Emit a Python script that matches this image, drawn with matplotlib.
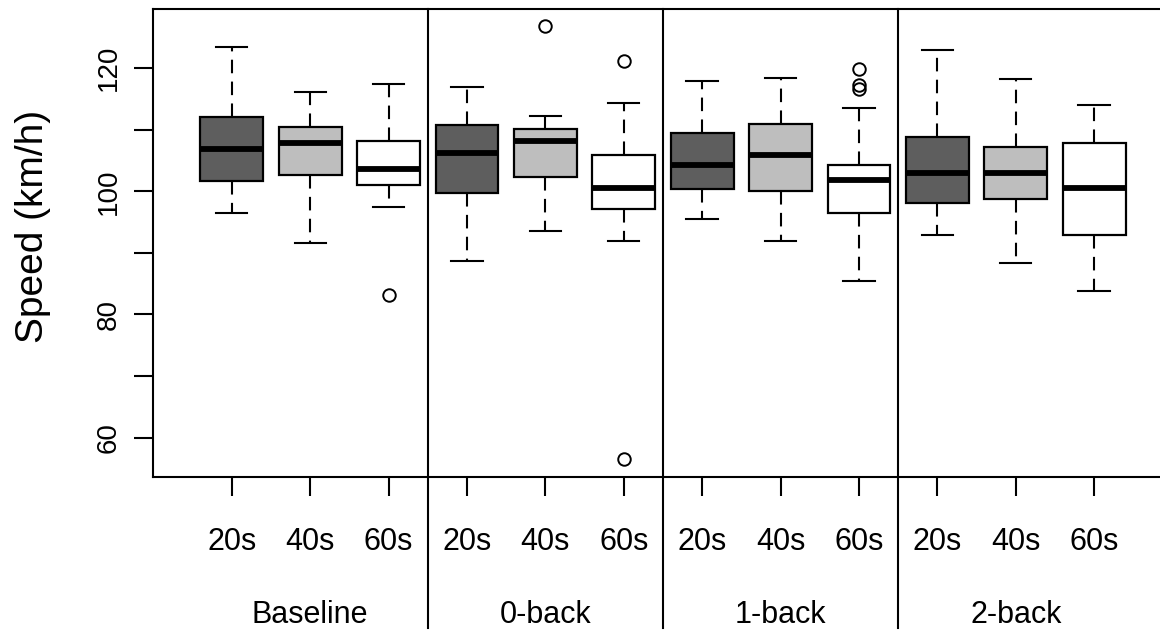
import matplotlib.pyplot as plt
from matplotlib.lines import Line2D

plt.rcParams['font.family'] = ['Liberation Sans', 'DejaVu Sans']

# --- dados (km/h) ---
condicoes = ['Baseline', '0-back', '1-back', '2-back']
janelas = ['20s', '40s', '60s']

whis_lo = [96.4, 91.6, 97.4, 88.6, 93.5, 91.9, 95.5, 91.9, 85.4, 92.9, 88.4, 83.8]
q1 = [101.6, 102.6, 101.0, 99.7, 102.3, 97.1, 100.3, 100.0, 96.5, 98.1, 98.7, 92.9]
mediana = [106.8, 107.8, 103.6, 106.2, 108.1, 100.6, 104.3, 105.9, 101.9, 103.0, 103.0, 100.6]
q3 = [112.0, 110.4, 108.1, 110.7, 110.1, 105.9, 109.4, 111.0, 104.2, 108.8, 107.2, 107.8]
whis_hi = [123.4, 116.2, 117.5, 116.9, 112.3, 114.3, 117.9, 118.4, 113.6, 123.0, 118.2, 114.0]
outliers = [[], [], [83.2], [], [126.9], [121.1, 56.5], [], [], [119.8, 117.3, 116.6], [], [], []]

CORES = ['#5e5e5e', '#bebebe', '#ffffff']

stats = []
for i in range(len(mediana)):
    stats.append({'whislo': whis_lo[i], 'q1': q1[i], 'med': mediana[i],
                  'q3': q3[i], 'whishi': whis_hi[i], 'fliers': outliers[i]})

fig = plt.figure(figsize=(11.6, 6.32), dpi=100)
ax = fig.add_axes([153 / 1160, 155 / 632, 1 - 153 / 1160, 468 / 632])

posicoes = list(range(1, len(mediana) + 1))
bp = ax.bxp(stats, positions=posicoes, widths=0.8, patch_artist=True,
            capwidths=0.4,
            boxprops=dict(linewidth=1.6, edgecolor='black'),
            medianprops=dict(linewidth=4.2, color='black', solid_capstyle='butt'),
            whiskerprops=dict(linewidth=1.5, linestyle=(0, (6.5, 4)), color='black'),
            capprops=dict(linewidth=1.5, color='black'),
            flierprops=dict(marker='o', markersize=9, markerfacecolor='none',
                            markeredgecolor='black', markeredgewidth=1.4))
for i, caixa in enumerate(bp['boxes']):
    caixa.set_facecolor(CORES[i % 3])

ax.set_xlim(-0.005, 12.84)
ax.set_ylim(53.6, 129.6)

ax.set_yticks([60, 70, 80, 90, 100, 110, 120])
ax.set_yticklabels(['60', '', '80', '', '100', '', '120'], rotation=90, va='center')
ax.set_xticks(posicoes)
ax.set_xticklabels(janelas * 4)
ax.tick_params(axis='both', length=13.7, width=1.5)
ax.tick_params(axis='x', pad=22, labelsize=22)
ax.tick_params(axis='y', pad=9, labelsize=20)
ax.set_ylabel('Speed (km/h)', fontsize=28)
ax.yaxis.set_label_coords(-0.101, 0.536)

for lado in ['left', 'top', 'bottom']:
    ax.spines[lado].set_linewidth(1.5)
ax.spines['right'].set_visible(False)

# linhas separando as condições (descem até a área dos rótulos)
for k in range(1, len(condicoes)):
    x = 3 * k + 0.5
    ax.add_line(Line2D([x, x], [-0.322, 1], transform=ax.get_xaxis_transform(),
                       color='black', linewidth=1.5, clip_on=False))

for k, nome in enumerate(condicoes):
    ax.text(3 * k + 2, -0.312, nome, transform=ax.get_xaxis_transform(),
            ha='center', va='baseline', fontsize=22)

fig.savefig('out.png', dpi=100)
